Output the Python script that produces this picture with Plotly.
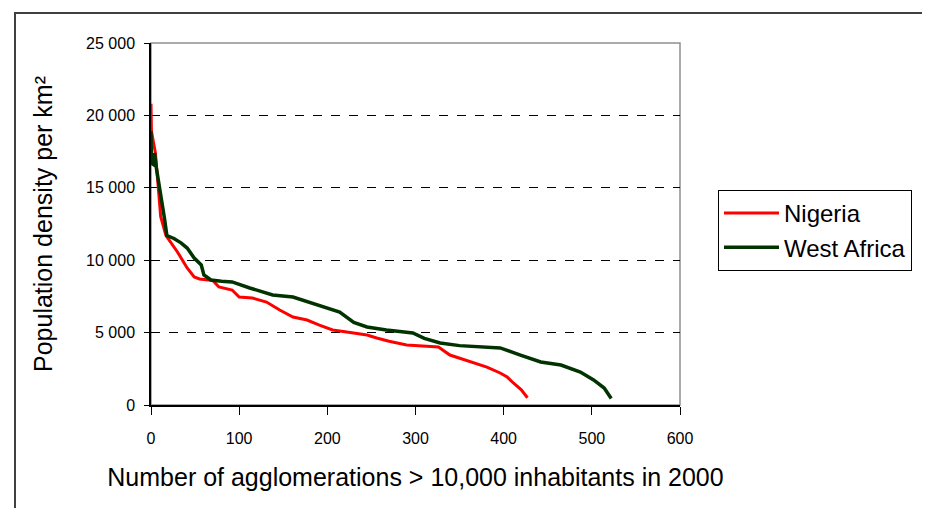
import plotly.graph_objects as go

# Nigeria: rank of agglomeration vs population density
nigeria_x = [0, 0.5, 2, 5, 8, 11, 17, 30, 41, 49, 55, 63, 70, 77, 92, 100, 115, 131, 146,
             161, 177, 191, 206, 222, 245, 256, 270, 290, 305, 326, 339, 362, 381, 396,
             404, 411, 420, 427]
nigeria_y = [20800, 18900, 18400, 17400, 15200, 13000, 11700, 10570, 9460, 8840, 8700, 8630,
             8600, 8150, 7940, 7460, 7390, 7110, 6560, 6080, 5870, 5520, 5180, 5040, 4830,
             4630, 4400, 4140, 4070, 4000, 3450, 2970, 2620, 2210, 1930, 1520, 1050, 500]

# West Africa
wa_x = [0, 0.5, 3, 4, 6, 9, 12, 15, 18, 26, 34, 41, 49, 57, 60, 68, 80, 92, 112, 138, 161,
        191, 214, 230, 245, 267, 297, 310, 328, 350, 374, 396, 419, 442, 465, 487, 502,
        514, 522]
wa_y = [18900, 16700, 16600, 17400, 16400, 15300, 14300, 13000, 11700, 11500, 11200, 10840,
        10150, 9670, 8980, 8630, 8550, 8500, 8080, 7600, 7460, 6900, 6420, 5700, 5390, 5180,
        4970, 4600, 4280, 4100, 4000, 3940, 3450, 2970, 2760, 2280, 1730, 1170, 450]

y_ticks = [0, 5000, 10000, 15000, 20000, 25000]
y_tick_labels = ["0", "5 000", "10 000", "15 000", "20 000", "25 000"]
x_ticks = [0, 100, 200, 300, 400, 500, 600]

FONT = "Liberation Sans, Arial, sans-serif"

fig = go.Figure()
fig.add_trace(go.Scatter(x=nigeria_x, y=nigeria_y, mode="lines", name="Nigeria",
                         line=dict(color="#FF0000", width=3), legendgroup="a"))
fig.add_trace(go.Scatter(x=wa_x, y=wa_y, mode="lines", name="West Africa",
                         line=dict(color="#003300", width=3.5), legendgroup="b"))

OFF = 8  # page body margin
L, R, T, B = 151, 680, 43, 405
W, H = 930 - OFF, 508 - OFF
pw, ph = R - L, B - T

def px(x):
    return (x - L) / pw

def py(y):
    return (B - y) / ph

fig.update_layout(
    width=W, height=H,
    margin=dict(l=L - OFF, r=930 - R, t=T - OFF, b=508 - B, pad=0),
    paper_bgcolor="white", plot_bgcolor="white",
    font=dict(family=FONT, color="black"),
    showlegend=True,
    legend=dict(x=px(718), y=py(190), xanchor="left", yanchor="top",
                bordercolor="black", borderwidth=1, bgcolor="white",
                font=dict(size=24, family=FONT, color="black"),
                tracegroupgap=0, itemwidth=55, traceorder="grouped"),
    xaxis=dict(range=[0, 600], tickvals=x_ticks, ticks="outside", ticklen=8,
               tickcolor="black", showline=True, linecolor="black", linewidth=1.5,
               showgrid=False, zeroline=False, ticklabelstandoff=10,
               tickfont=dict(size=16, family=FONT, color="black"),
               title=dict(text="Number of agglomerations > 10,000 inhabitants in 2000",
                          font=dict(size=25, family=FONT, color="black"), standoff=23)),
    yaxis=dict(range=[0, 25000], tickvals=y_ticks, ticktext=y_tick_labels,
               ticks="outside", ticklen=5, tickcolor="black", ticklabelstandoff=6,
               showline=True, linecolor="black", linewidth=1.5,
               showgrid=True, gridcolor="black", griddash="dash", gridwidth=1,
               zeroline=False,
               tickfont=dict(size=16, family=FONT, color="black"),
               title=dict(text="Population density per km²",
                          font=dict(size=25, family=FONT, color="black"), standoff=26)),
    shapes=[
        # grey top/right border of plot area
        dict(type="rect", xref="paper", yref="paper", x0=0, x1=1, y0=0, y1=1,
             line=dict(color="#909090", width=1.5), layer="below"),
        # outer chart frame
        dict(type="rect", xref="paper", yref="paper", x0=px(15), x1=px(940),
             y0=py(520), y1=py(13), line=dict(color="#404040", width=2), layer="below"),
    ],
)

fig.write_html("out.html")
